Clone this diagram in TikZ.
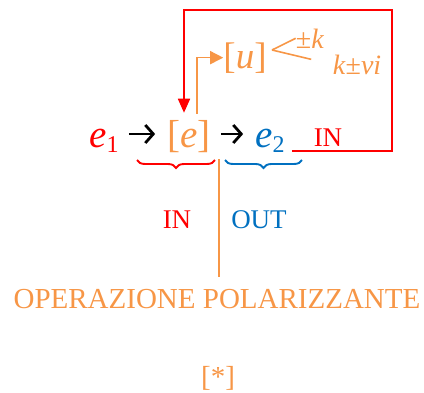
\documentclass[tikz,border=0pt]{standalone}
\usepackage{fontspec}
\setmainfont{Liberation Serif}
\usetikzlibrary{arrows.meta, positioning, calc, decorations.pathreplacing}
\definecolor{polred}{RGB}{255,0,0}
\definecolor{polorange}{RGB}{247,150,70}
\definecolor{polblue}{RGB}{0,112,192}
\newcommand{\fs}[1]{\fontsize{#1}{#1}\selectfont}

\begin{document}
\begin{tikzpicture}[x=1pt, y=-1pt,
    term/.style={inner sep=0pt, anchor=base, font=\fs{39}},
    tag/.style={inner sep=0pt, anchor=base, font=\fs{27}},
    flow/.style={-{Straight Barb[length=8pt, width=18pt]}, line width=2.8pt, shorten <=10pt, shorten >=12pt},
    loop/.style={-{Triangle[length=14pt, width=12pt]}, polred, line width=1.7pt},
    feed/.style={-{Triangle[length=13pt, width=13pt]}, polorange, line width=1.5pt},
    branch/.style={polorange, line width=1.6pt},
    grp/.style={decorate, decoration={brace, mirror, amplitude=8pt}, line width=1.9pt}
]
    \useasboundingbox (0,0) rectangle (424,392);

    % main row
    \node[term, polred] (e1) at (104,147) {\textit{e}\raisebox{-5pt}{\fs{24}1}};
    \node[term, polorange] (ebr) at (189,147) {[\textit{e}]};
    \node[term, polblue] (e2) at (270,147) {\textit{e}\raisebox{-5pt}{\fs{24}2}};
    \node[tag, polred] (inr) at (328,146) {IN};

    % upper branch
    \node[term, polorange, font=\fs{37}] (u) at (245,68) {[\textit{u}]};
    \node[tag, polorange, font=\fs{28}] (pk) at (310,48) {±\textit{k}};
    \node[tag, polorange, font=\fs{28}] (kvi) at (357,74) {\textit{k}±\textit{vi}};

    % lower part
    \node[tag, polred] (inl) at (177,228) {IN};
    \node[tag, polblue] (outl) at (259,228) {OUT};
    \node[tag, polorange, font=\fs{29}] (oper) at (217,308) {OPERAZIONE POLARIZZANTE};
    \node[tag, polorange, font=\fs{29}] (star) at (218,386) {[*]};

    \coordinate (row) at (0,134);
    \coordinate (lowrow) at (0,151);
    \coordinate (corner) at (392,10);
    \coordinate (fbstart) at ($(e2.east |- lowrow)+(7,0)$);
    \coordinate (fork) at (272,50);
    \coordinate (rb1) at (137,160);
    \coordinate (rb2) at (215,160);
    \coordinate (bb1) at (225,160);
    \coordinate (bb2) at (302,160);
    \coordinate (split) at (219,159);
    \coordinate (opertop) at ([yshift=12pt]oper.north);

    \draw[flow] (e1.east |- row) -- (ebr.west |- row);
    \draw[flow] (ebr.east |- row) -- (e2.west |- row);
    \draw[loop] (fbstart) -| (corner) -| ([xshift=-5pt, yshift=7pt]ebr.north);
    \draw[feed] ([xshift=8pt, yshift=6pt]ebr.north) |- (u.west);
    \draw[branch] (fork) -- (pk.west);
    \draw[branch, shorten >=22pt] (fork) -- (kvi.west);
    \draw[grp, polred] (rb1) -- (rb2);
    \draw[grp, polblue] (bb1) -- (bb2);
    \draw[branch] (split) -- (split |- opertop);
\end{tikzpicture}
\end{document}
